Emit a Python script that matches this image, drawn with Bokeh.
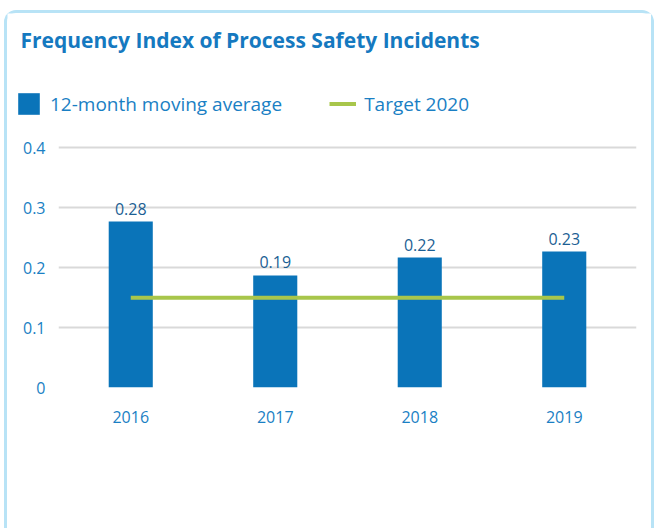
from bokeh.plotting import figure
from bokeh.layouts import column
from bokeh.models import (FactorRange, Range1d, FixedTicker, Label, Legend, LegendItem)
from bokeh.embed import file_html
from bokeh.resources import INLINE
from bokeh.core.properties import value

years = ["2016", "2017", "2018", "2019"]
moving_avg = [0.277, 0.187, 0.217, 0.227]
value_labels = ["0.28", "0.19", "0.22", "0.23"]
target_2020 = [0.15, 0.15, 0.15, 0.15]
y_ticks = [0, 0.1, 0.2, 0.3, 0.4]
y_tick_labels = ["0", "0.1", "0.2", "0.3", "0.4"]
title_text = "Frequency Index of Process Safety Incidents"
series_names = ["12-month moving average", "Target 2020"]

BLUE = "#0a74b9"
GREEN = "#a8c64b"
TXT = "#1a7fc4"
CARD = "#b8e3f6"
FONT = "Open Sans"

# ---- header: title + legend ----
head = figure(width=644, height=122, min_border=0,
              x_axis_type=None, y_axis_type=None,
              output_backend="svg", toolbar_location=None, tools="",
              title_location=None)
head.frame_align = False
head.outline_line_color = None
head.xgrid.grid_line_color = None
head.ygrid.grid_line_color = None
head.x_range = Range1d(0, 1)
head.y_range = Range1d(0, 1)

# swatch renderers for the legend (zero-size, nothing visible)
sw_bar = head.vbar(x=[0], top=[0], width=0, fill_color=BLUE, line_color=None)
sw_line = head.line(x=[0], y=[0], line_color=GREEN, line_width=4)

head.add_layout(Label(x=13, y=96, x_units="screen", y_units="screen",
                      text=title_text, text_font=FONT, text_font_size="21px",
                      text_font_style="bold", text_color="#1579c0",
                      text_baseline="alphabetic"))

legend = Legend(items=[LegendItem(label=series_names[0], renderers=[sw_bar]),
                       LegendItem(label=series_names[1], renderers=[sw_line])],
                orientation="horizontal", location=(8, 18),
                glyph_width=27, glyph_height=27, label_standoff=8, spacing=47,
                padding=0, margin=0, border_line_color=None,
                background_fill_alpha=0,
                label_text_font=FONT, label_text_font_size="19px",
                label_text_color=TXT, label_height=20)
head.add_layout(legend, "center")

# ---- chart ----
p = figure(
    x_range=FactorRange(*years, range_padding=0),
    y_range=Range1d(0, 0.404),
    frame_width=578, frame_height=242,
    min_border_left=51, min_border_right=15,
    min_border_top=10, min_border_bottom=141,
    output_backend="svg", toolbar_location=None,
    tools="", title_location=None,
)
p.outline_line_color = None
p.background_fill_color = "white"
p.border_fill_color = "white"

p.vbar(x=years, top=moving_avg, width=0.305, fill_color=BLUE, line_color=None)
p.line(x=years, y=target_2020, line_color=GREEN, line_width=4)

p.text(x=years, y=moving_avg, text=value_labels, text_align="center",
       text_baseline="alphabetic", y_offset=-13, text_font_size="16px",
       text_color="#1c5f94", text_font=value(FONT))

p.xgrid.grid_line_color = None
p.ygrid.grid_line_color = "#d9d9d9"
p.ygrid.grid_line_width = 2

p.yaxis.ticker = FixedTicker(ticks=y_ticks)
p.yaxis.major_label_overrides = {t: l for t, l in zip(y_ticks, y_tick_labels)}
for ax in (p.xaxis[0], p.yaxis[0]):
    ax.axis_line_color = None
    ax.major_tick_line_color = None
    ax.minor_tick_line_color = None
    ax.major_label_text_color = TXT
    ax.major_label_text_font = FONT
    ax.major_label_text_font_size = "16px"
p.yaxis.major_label_standoff = 7
p.xaxis.major_label_standoff = 17

layout = column(head, p, spacing=0, styles={
    "margin-left": "4px",
    "margin-top": "10px",
    "border-left": f"3px solid {CARD}",
    "border-top": f"3px solid {CARD}",
    "border-right": f"3px solid {CARD}",
    "border-top-left-radius": "12px",
    "border-top-right-radius": "12px",
    "background": "white",
})

open("out.html", "w").write(file_html(layout, INLINE))
